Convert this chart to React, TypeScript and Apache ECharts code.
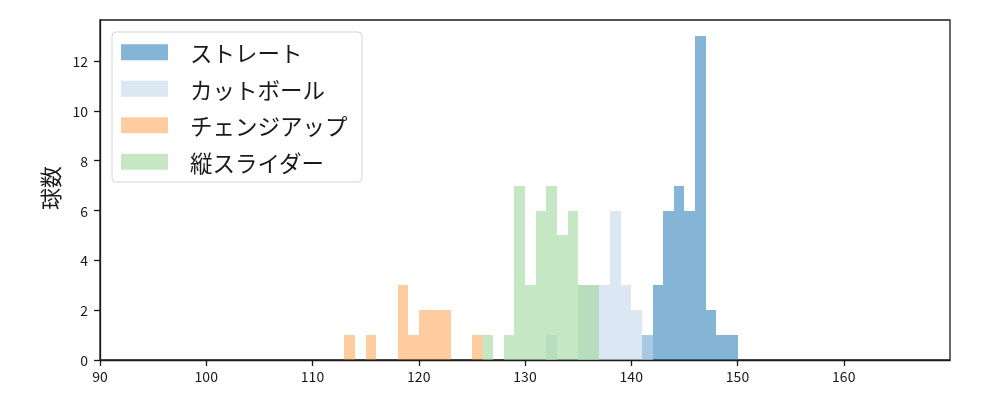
import React, { useEffect, useRef } from "react";
import * as echarts from "echarts";

const seriesNames = ["ストレート", "カットボール", "チェンジアップ", "縦スライダー"];
const seriesColors = [
  "rgba(31,119,180,0.55)",
  "rgba(195,215,235,0.6)",
  "rgba(255,127,14,0.4)",
  "rgba(160,215,155,0.6)",
];

// bin left edges (km/h, width 1) and counts
const straightBins = [141, 142, 143, 144, 145, 146, 147, 148, 149];
const straightCounts = [1, 3, 6, 7, 6, 13, 2, 1, 1];

const cutBins = [132, 135, 136, 137, 138, 139, 140, 141];
const cutCounts = [1, 3, 3, 3, 6, 3, 2, 1];

const changeBins = [113, 115, 118, 119, 120, 121, 122, 125];
const changeCounts = [1, 1, 3, 1, 2, 2, 2, 1];

const sliderBins = [126, 128, 129, 130, 131, 132, 133, 134, 135, 136];
const sliderCounts = [1, 1, 7, 3, 6, 7, 5, 6, 3, 3];

const xTicks = [90, 100, 110, 120, 130, 140, 150, 160];
const yTicks = [0, 2, 4, 6, 8, 10, 12];
const binWidth = 1;

const allBins = [straightBins, cutBins, changeBins, sliderBins];
const allCounts = [straightCounts, cutCounts, changeCounts, sliderCounts];

const FONT = "'Noto Sans CJK JP', 'Noto Sans', sans-serif";

export default function App() {
  const ref = useRef<HTMLDivElement>(null);
  useEffect(() => {
    if (!ref.current) return;
    const chart = echarts.init(ref.current, null, { renderer: "svg" });
    const series = seriesNames.map((name, i) => ({
      name,
      type: "custom",
      itemStyle: { color: seriesColors[i] },
      encode: { x: 0, y: 1 },
      data: allBins[i].map((b, j) => [b, allCounts[i][j]]),
      renderItem: (params: any, api: any) => {
        const x0 = api.value(0);
        const v = api.value(1);
        const p0 = api.coord([x0, 0]);
        const p1 = api.coord([x0 + binWidth, v]);
        const xl = Math.round(p0[0]);
        const xr = Math.round(p1[0]);
        const yb = Math.round(p0[1]);
        const yt = Math.round(p1[1]);
        return {
          type: "rect",
          shape: { x: xl, y: yt, width: xr - xl, height: yb - yt },
          style: { fill: seriesColors[i] },
        };
      },
      z: 2 + i,
    }));
    chart.setOption({
      animation: false,
      grid: { left: 100, right: 50, top: 20, bottom: 40, show: true, borderColor: "#1a1a1a", borderWidth: 1.3 },
      xAxis: {
        type: "value",
        min: 90,
        max: 170,
        interval: 10,
        axisLine: { show: true, lineStyle: { color: "#1a1a1a", width: 1.3 } },
        axisTick: { show: true, length: 6, customValues: xTicks, lineStyle: { color: "#1a1a1a", width: 1.3 } },
        axisLabel: { customValues: xTicks, margin: 9, fontSize: 14, color: "#1a1a1a", fontFamily: FONT },
        splitLine: { show: false },
      },
      yAxis: {
        type: "value",
        min: 0,
        max: 13.65,
        interval: 2,
        axisLine: { show: true, lineStyle: { color: "#1a1a1a", width: 1.3 } },
        axisTick: { show: true, length: 6, customValues: yTicks, lineStyle: { color: "#1a1a1a", width: 1.3 } },
        axisLabel: { customValues: yTicks, margin: 12, fontSize: 14, color: "#1a1a1a", fontFamily: FONT },
        splitLine: { show: false },
      },
      legend: {
        orient: "vertical",
        left: 121,
        top: 41,
        padding: 0,
        itemWidth: 47,
        itemHeight: 16,
        itemGap: 14,
        z: 10,
        data: seriesNames.map((n) => ({ name: n, icon: "rect" })),
        textStyle: { fontSize: 22.5, lineHeight: 22, color: "#1a1a1a", fontFamily: FONT, padding: [0, 0, 0, 17] },
      },
      graphic: [
        {
          type: "rect",
          z: 9,
          shape: { x: 112, y: 32, width: 250, height: 150, r: 4 },
          style: { fill: "rgba(255,255,255,0.8)", stroke: "#d4d4d4", lineWidth: 1 },
        },
        {
          type: "text",
          x: 49,
          y: 188,
          rotation: Math.PI / 2,
          style: {
            text: "球数",
            fontSize: 22,
            fontFamily: FONT,
            fill: "#1a1a1a",
            textAlign: "center",
            textVerticalAlign: "middle",
          },
        },
      ],
      series,
    });
    return () => chart.dispose();
  }, []);
  return <div ref={ref} style={{ position: "fixed", left: 0, top: 0, width: 1000, height: 400 }} />;
}
